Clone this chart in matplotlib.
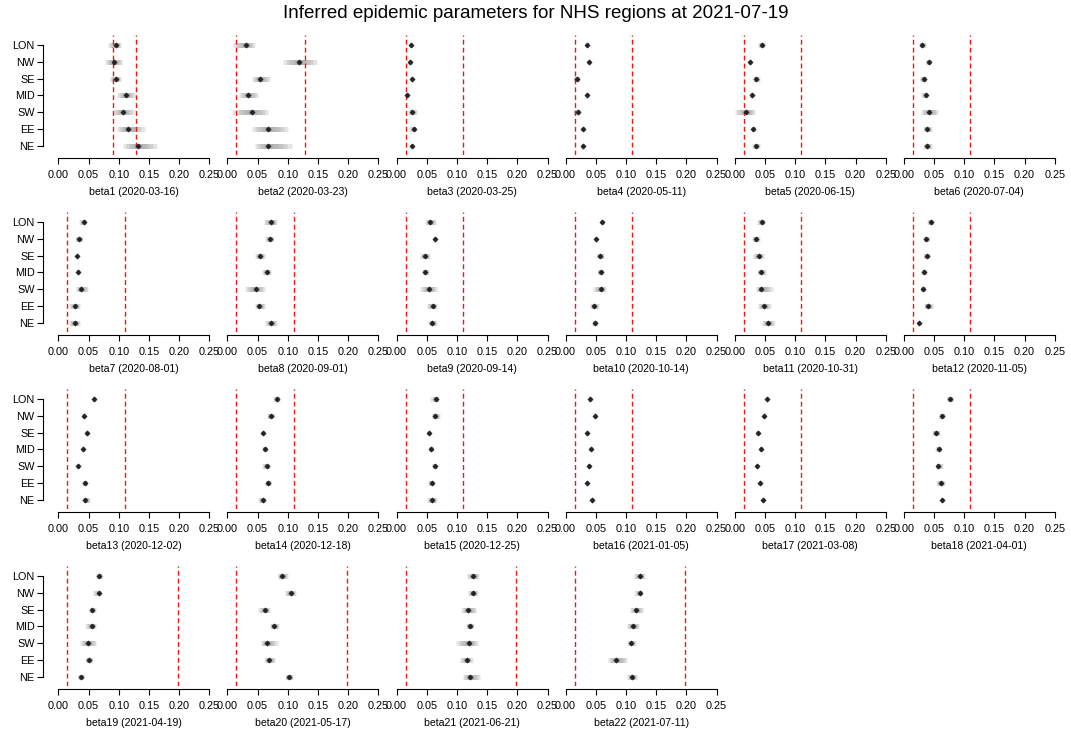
"""
  Parametros epidemicos inferidos por regiao do NHS.
"""
import matplotlib
matplotlib.use('Agg')
import matplotlib.pyplot as plt

plt.rcParams['font.family'] = ['Liberation Sans', 'DejaVu Sans']

# Regioes (de cima para baixo)
regioes = ['LON', 'NW', 'SE', 'MID', 'SW', 'EE', 'NE']

# Datas de cada beta
datas = ['2020-03-16', '2020-03-23', '2020-03-25', '2020-05-11', '2020-06-15', '2020-07-04',
         '2020-08-01', '2020-09-01', '2020-09-14', '2020-10-14', '2020-10-31', '2020-11-05',
         '2020-12-02', '2020-12-18', '2020-12-25', '2021-01-05', '2021-03-08', '2021-04-01',
         '2021-04-19', '2021-05-17', '2021-06-21', '2021-07-11']

# Limites da priori (linhas vermelhas)
prior_inf = [0.091, 0.015] + [0.015]*16 + [0.015]*4
prior_sup = [0.128, 0.128] + [0.110]*16 + [0.198]*4

# Medianas (LON, NW, SE, MID, SW, EE, NE)
medianas = [
  [0.095, 0.092, 0.095, 0.112, 0.107, 0.115, 0.132],
  [0.030, 0.119, 0.054, 0.034, 0.040, 0.068, 0.068],
  [0.024, 0.023, 0.026, 0.018, 0.026, 0.029, 0.026],
  [0.036, 0.039, 0.019, 0.035, 0.020, 0.029, 0.028],
  [0.045, 0.025, 0.036, 0.028, 0.019, 0.031, 0.035],
  [0.030, 0.041, 0.033, 0.036, 0.042, 0.039, 0.039],
  [0.042, 0.034, 0.031, 0.033, 0.038, 0.028, 0.027],
  [0.073, 0.070, 0.054, 0.065, 0.047, 0.053, 0.073],
  [0.056, 0.063, 0.047, 0.047, 0.054, 0.060, 0.059],
  [0.061, 0.050, 0.057, 0.058, 0.058, 0.047, 0.048],
  [0.045, 0.035, 0.040, 0.044, 0.044, 0.048, 0.055],
  [0.045, 0.037, 0.038, 0.033, 0.031, 0.040, 0.025],
  [0.059, 0.042, 0.047, 0.041, 0.033, 0.044, 0.045],
  [0.082, 0.072, 0.059, 0.062, 0.065, 0.068, 0.059],
  [0.066, 0.063, 0.054, 0.057, 0.063, 0.058, 0.058],
  [0.040, 0.049, 0.036, 0.042, 0.038, 0.035, 0.044],
  [0.053, 0.049, 0.038, 0.043, 0.037, 0.042, 0.047],
  [0.077, 0.063, 0.054, 0.058, 0.057, 0.061, 0.064],
  [0.068, 0.067, 0.056, 0.056, 0.049, 0.050, 0.038],
  [0.091, 0.105, 0.063, 0.077, 0.065, 0.069, 0.102],
  [0.127, 0.127, 0.119, 0.121, 0.120, 0.116, 0.121],
  [0.123, 0.123, 0.117, 0.111, 0.109, 0.084, 0.110],
]

# Limite inferior do intervalo
inferiores = [
  [0.083, 0.077, 0.086, 0.097, 0.090, 0.097, 0.107],
  [0.010, 0.092, 0.041, 0.020, 0.007, 0.040, 0.045],
  [0.022, 0.021, 0.024, 0.016, 0.020, 0.020, 0.024],
  [0.034, 0.037, 0.013, 0.033, 0.013, 0.027, 0.026],
  [0.039, 0.023, 0.030, 0.025, 0.001, 0.028, 0.029],
  [0.025, 0.036, 0.026, 0.028, 0.029, 0.032, 0.032],
  [0.035, 0.028, 0.029, 0.031, 0.029, 0.018, 0.018],
  [0.060, 0.063, 0.046, 0.058, 0.029, 0.046, 0.062],
  [0.048, 0.061, 0.039, 0.043, 0.039, 0.050, 0.052],
  [0.059, 0.048, 0.051, 0.052, 0.046, 0.041, 0.044],
  [0.037, 0.029, 0.030, 0.037, 0.035, 0.039, 0.045],
  [0.039, 0.032, 0.032, 0.029, 0.028, 0.033, 0.023],
  [0.057, 0.040, 0.045, 0.039, 0.031, 0.040, 0.040],
  [0.076, 0.065, 0.057, 0.058, 0.058, 0.062, 0.051],
  [0.056, 0.058, 0.052, 0.053, 0.058, 0.052, 0.051],
  [0.038, 0.047, 0.034, 0.040, 0.036, 0.033, 0.042],
  [0.051, 0.047, 0.036, 0.041, 0.035, 0.040, 0.045],
  [0.071, 0.058, 0.046, 0.052, 0.053, 0.053, 0.062],
  [0.062, 0.058, 0.051, 0.045, 0.036, 0.044, 0.032],
  [0.083, 0.095, 0.051, 0.070, 0.056, 0.060, 0.095],
  [0.117, 0.118, 0.107, 0.115, 0.099, 0.105, 0.110],
  [0.113, 0.114, 0.107, 0.102, 0.102, 0.070, 0.102],
]

# Limite superior do intervalo
superiores = [
  [0.103, 0.106, 0.103, 0.127, 0.125, 0.143, 0.163],
  [0.046, 0.148, 0.070, 0.050, 0.068, 0.101, 0.107],
  [0.026, 0.025, 0.028, 0.020, 0.034, 0.032, 0.028],
  [0.038, 0.041, 0.024, 0.037, 0.024, 0.031, 0.030],
  [0.050, 0.027, 0.042, 0.031, 0.034, 0.035, 0.042],
  [0.036, 0.045, 0.038, 0.039, 0.057, 0.046, 0.046],
  [0.046, 0.041, 0.033, 0.035, 0.049, 0.036, 0.036],
  [0.082, 0.077, 0.062, 0.072, 0.062, 0.062, 0.082],
  [0.065, 0.065, 0.055, 0.053, 0.067, 0.067, 0.067],
  [0.063, 0.052, 0.064, 0.063, 0.067, 0.055, 0.053],
  [0.050, 0.042, 0.048, 0.051, 0.063, 0.060, 0.066],
  [0.050, 0.043, 0.043, 0.038, 0.036, 0.048, 0.027],
  [0.061, 0.044, 0.049, 0.043, 0.035, 0.048, 0.052],
  [0.087, 0.078, 0.061, 0.066, 0.070, 0.073, 0.063],
  [0.070, 0.072, 0.056, 0.061, 0.067, 0.062, 0.067],
  [0.042, 0.051, 0.038, 0.044, 0.040, 0.037, 0.046],
  [0.055, 0.051, 0.040, 0.045, 0.039, 0.044, 0.049],
  [0.082, 0.068, 0.060, 0.062, 0.065, 0.068, 0.066],
  [0.073, 0.070, 0.062, 0.062, 0.063, 0.057, 0.042],
  [0.100, 0.114, 0.071, 0.086, 0.083, 0.079, 0.109],
  [0.137, 0.135, 0.132, 0.129, 0.135, 0.126, 0.138],
  [0.132, 0.127, 0.128, 0.122, 0.116, 0.102, 0.118],
]

ticks_x = [0.00, 0.05, 0.10, 0.15, 0.20, 0.25]

# Geometria em pixels
LARG, ALT = 1071, 733
X0, DX, ESC_X = 58.3, 169.1, 604.0
Y0, DY, ESC_Y = 45.0, 177.0, 16.8
XLIM = (-0.01, 0.26)
YLIM = (0.48, 7.6)


def desenhar_painel (ax, i):
  ys = list(range(len(regioes), 0, -1))
  med, inf, sup = medianas[i], inferiores[i], superiores[i]
  # Intervalos com degrade (mais escuro no centro)
  for k in range(5):
    f = (k + 1) / 5
    for y, m, a, b in zip(ys, med, inf, sup):
      ax.plot([m - f*(m - a), m + f*(b - m)], [y, y], color='#999999', alpha=0.25,
              lw=3.6, solid_capstyle='butt', zorder=2)
  ax.plot(med, ys, 'D', color='#222222', ms=2.7, mew=0.4, zorder=4, ls='none')
  # Limites da priori
  for v in (prior_inf[i], prior_sup[i]):
    ax.axvline(v, color='#e41a1c', lw=1.0, ls=(0, (3.5, 2.2)), zorder=3)

  ax.set_xlim(*XLIM)
  ax.set_ylim(*YLIM)
  for s in ('top', 'right'):
    ax.spines[s].set_visible(False)
  ax.spines['bottom'].set_position(('outward', 2.8))
  ax.spines['bottom'].set_bounds(0, 0.25)
  ax.spines['bottom'].set_linewidth(0.8)
  ax.set_xticks(ticks_x)
  ax.set_xticklabels([f'{t:.2f}' for t in ticks_x])
  ax.tick_params(axis='x', length=4.3, width=0.8, pad=4.2, labelsize=7.8)
  ax.set_xlabel(f'beta{i+1} ({datas[i]})', fontsize=7.6, labelpad=5)

  if i % 6 == 0:
    ax.spines['left'].set_position(('outward', 6.5))
    ax.spines['left'].set_bounds(1, 7)
    ax.spines['left'].set_linewidth(0.8)
    ax.set_yticks(ys)
    ax.set_yticklabels(regioes)
    ax.tick_params(axis='y', length=4.3, width=0.8, pad=2, labelsize=7.8)
  else:
    ax.spines['left'].set_visible(False)
    ax.set_yticks([])


fig = plt.figure(figsize=(LARG/100, ALT/100), dpi=100)
fig.text(0.5, 1 - 13/ALT, 'Inferred epidemic parameters for NHS regions at 2021-07-19',
         ha='center', va='center', fontsize=13.5)

for i in range(len(datas)):
  lin, col = divmod(i, 6)
  esq = X0 + DX*col + XLIM[0]*ESC_X
  larg = (XLIM[1] - XLIM[0])*ESC_X
  topo = Y0 + DY*lin - (YLIM[1] - 7)*ESC_Y
  alt = (YLIM[1] - YLIM[0])*ESC_Y
  ax = fig.add_axes([esq/LARG, 1 - (topo + alt)/ALT, larg/LARG, alt/ALT])
  desenhar_painel(ax, i)

fig.savefig('out.png', dpi=100)
